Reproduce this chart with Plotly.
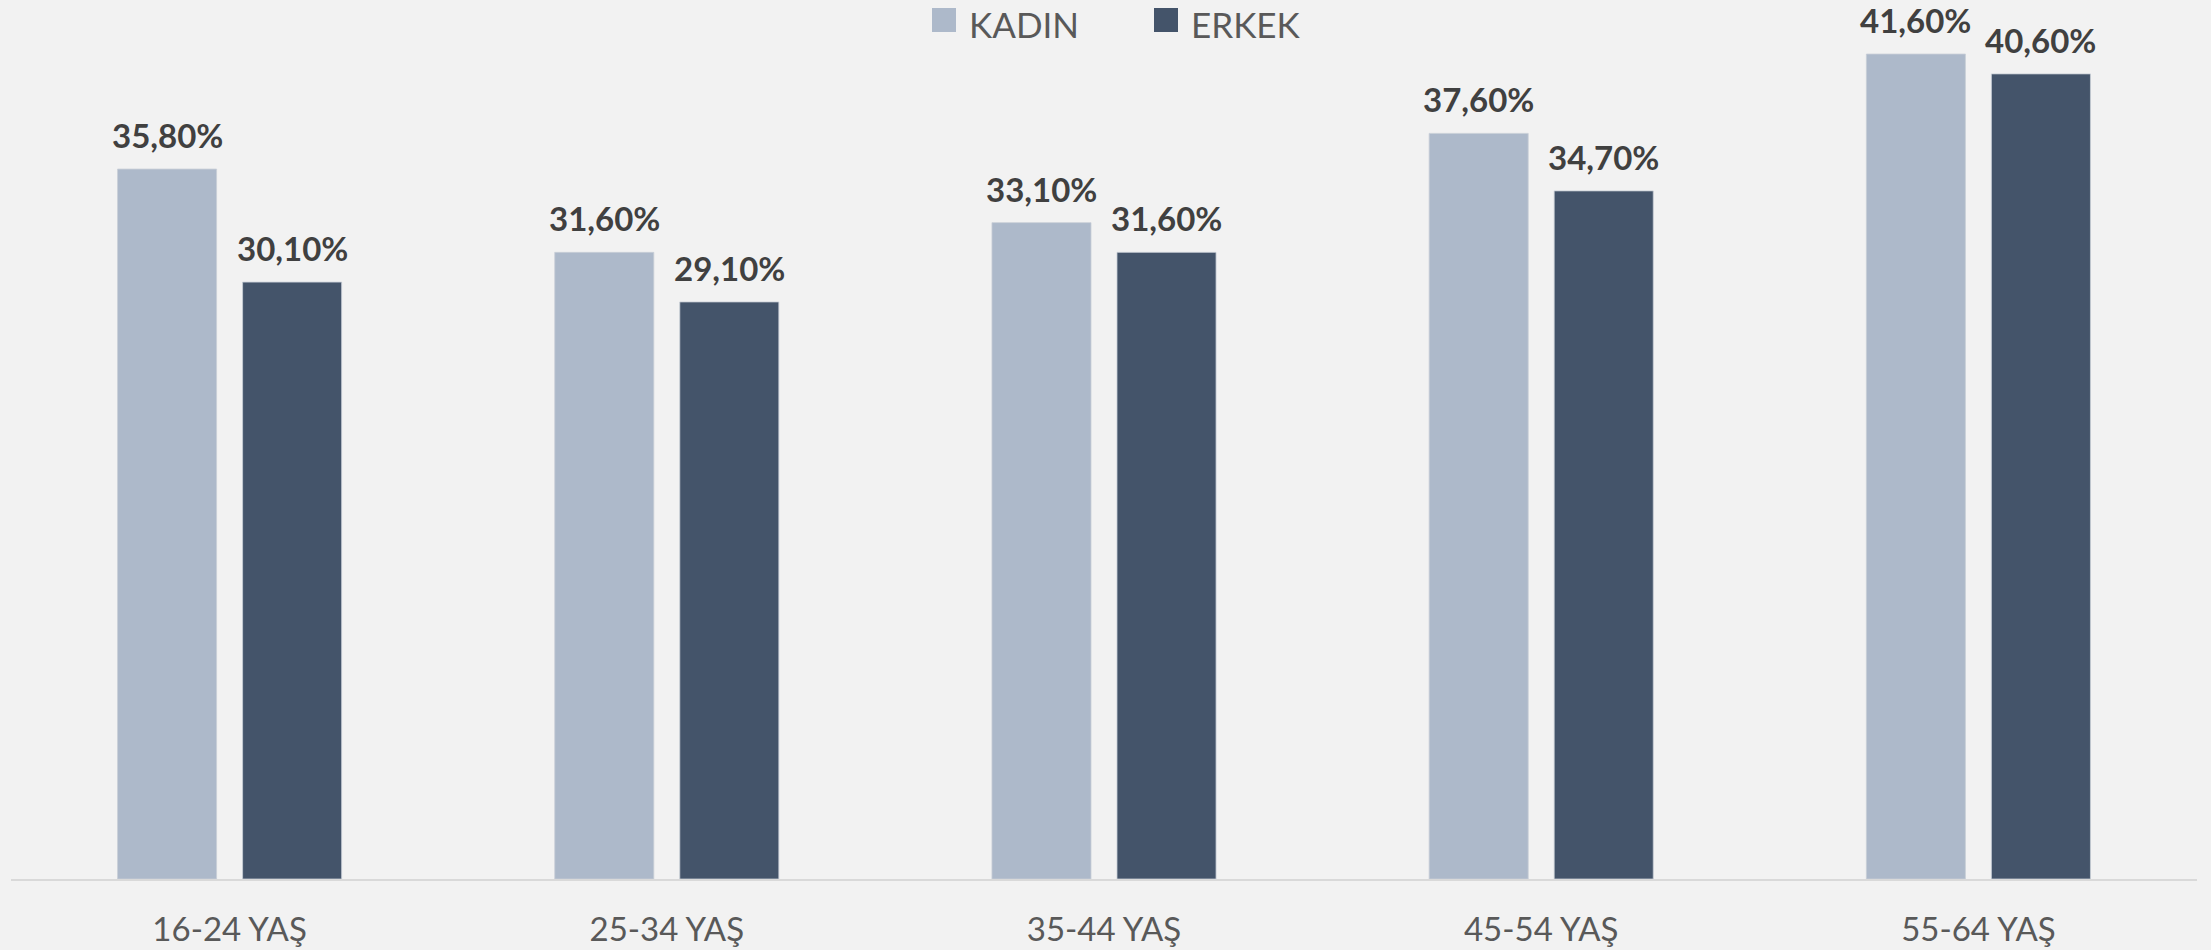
import plotly.graph_objects as go

# Age groups and the share (%) for each gender
categories = ["16-24 YAŞ", "25-34 YAŞ", "35-44 YAŞ", "45-54 YAŞ", "55-64 YAŞ"]
kadin = [35.8, 31.6, 33.1, 37.6, 41.6]
erkek = [30.1, 29.1, 31.6, 34.7, 40.6]

series_names = ["KADIN", "ERKEK"]
series_colors = ["#ADB9CA", "#44546A"]

W, H = 2211, 950
M_L, M_R, M_T, M_B = 11, 14, 0, 71
BAR_GAP = 0.428
GROUP_GAP = 0.208

FONT = "Lato, Calibri, 'Open Sans', sans-serif"

fig = go.Figure()
for name, vals, color in zip(series_names, [kadin, erkek], series_colors):
    fig.add_trace(go.Bar(
        x=categories, y=vals, name=name,
        marker=dict(color=color, line=dict(color="rgba(200,206,215,0.8)", width=1)),
        showlegend=False,
    ))

# value labels above each bar, shifted to the bar's slot within its group
plot_w = W - M_L - M_R
plot_h = H - M_T - M_B
slot = plot_w / len(categories) * (1 - BAR_GAP) / 2
for j, vals in enumerate([kadin, erkek]):
    for cat, v in zip(categories, vals):
        fig.add_annotation(
            x=cat, y=v, xref="x", yref="y",
            text=f"{v:.2f}%".replace(".", ","),
            showarrow=False, yanchor="bottom",
            xshift=(j - 0.5) * slot, yshift=12,
            font=dict(family=FONT, size=33, color="#404040", weight="bold"),
        )

# legend drawn as swatches + labels across the top
legend_items = [(932, 968), (1154, 1190)]
for (sx, tx), name, color in zip(legend_items, series_names, series_colors):
    fig.add_shape(type="rect", xref="paper", yref="paper",
                  x0=(sx - M_L) / plot_w, x1=(sx + 24 - M_L) / plot_w,
                  y0=1 - 32 / plot_h, y1=1 - 8 / plot_h,
                  fillcolor=color, line=dict(width=0))
    fig.add_annotation(x=(tx - M_L) / plot_w, y=1 - 2 / plot_h,
                       xref="paper", yref="paper", text=name, showarrow=False,
                       xanchor="left", yanchor="top", borderpad=0,
                       font=dict(family=FONT, size=35, color="#595959"))

fig.update_layout(
    width=W, height=H,
    margin=dict(l=M_L, r=M_R, t=M_T, b=M_B, pad=0),
    paper_bgcolor="#F2F2F2", plot_bgcolor="#F2F2F2",
    barmode="group", bargap=BAR_GAP, bargroupgap=GROUP_GAP,
    separators=",.",
    font=dict(family=FONT, color="#595959"),
    xaxis=dict(showline=True, linecolor="#D9D9D9", linewidth=2,
               ticks="", showgrid=False, ticklabelstandoff=20,
               tickfont=dict(size=33, color="#595959")),
    yaxis=dict(visible=False, range=[0, 879 / 19.83], showgrid=False, zeroline=False),
)

fig.write_html("out.html")
